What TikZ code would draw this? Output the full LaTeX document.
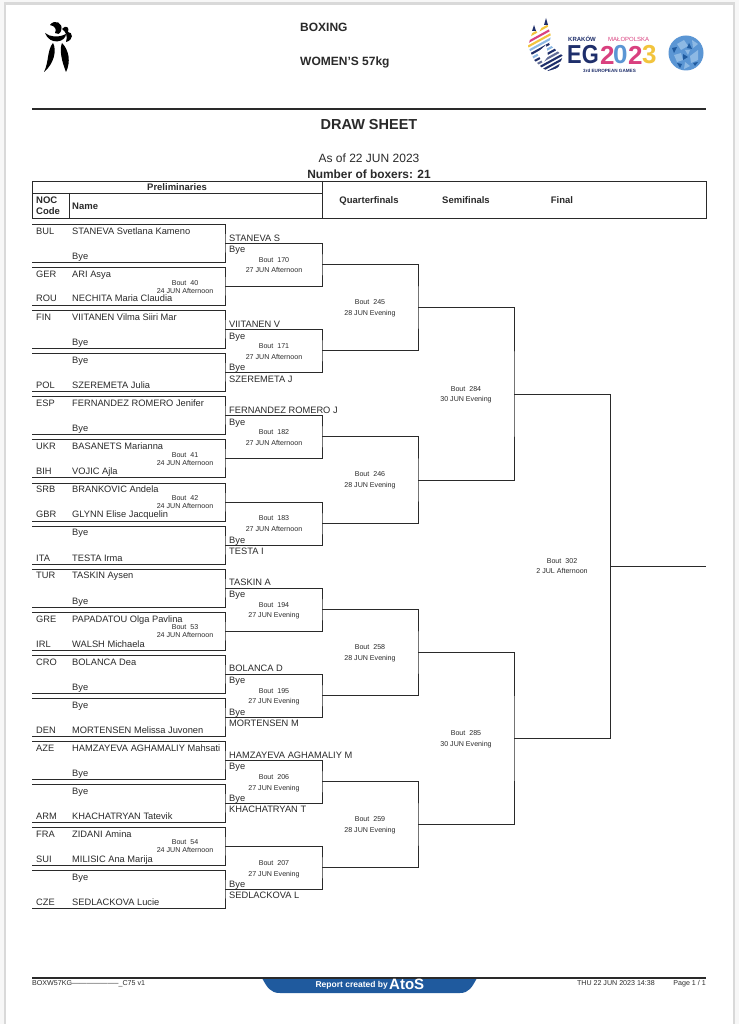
\documentclass[tikz,border=0pt]{standalone}
\usepackage{fontspec}
\setmainfont{Liberation Sans}
\usepackage{xcolor}
\usepackage{graphicx}
\usepackage{tikz}
\usetikzlibrary{positioning}
\definecolor{ink}{HTML}{2A2A2A}
\definecolor{egnavy}{HTML}{1F2F6B}
\definecolor{egpink}{HTML}{D9407F}
\definecolor{egyellow}{HTML}{F2C43D}
\definecolor{egblue}{HTML}{5B96D4}
\definecolor{egpale}{HTML}{8DB9E4}
\definecolor{atosblue}{HTML}{1F5A9E}
\tikzstyle{noc} = [anchor=west, inner sep=0pt, text=ink, text height=6.6pt, text depth=0pt, font=\fontsize{9.3}{10}\selectfont]
\tikzstyle{who} = [anchor=west, inner sep=0pt, text=ink, text height=6.6pt, text depth=0pt, font=\fontsize{9.3}{10}\selectfont]
\tikzstyle{adv} = [anchor=west, inner sep=0pt, text=ink, text height=6.6pt, text depth=0pt, font=\fontsize{9.3}{10}\selectfont]
\tikzstyle{bout} = [inner sep=0pt, text=ink, text height=5pt, text depth=0pt, font=\fontsize{7.1}{8}\selectfont]
\tikzstyle{head} = [inner sep=0pt, text=ink, text height=6.8pt, text depth=0pt, font=\bfseries\fontsize{9.5}{10}\selectfont]
\tikzstyle{title} = [anchor=west, inner sep=0pt, text=ink, text height=8.6pt, text depth=0pt, font=\bfseries\fontsize{12}{13}\selectfont]
\tikzstyle{foot} = [inner sep=0pt, text=ink, text height=5pt, text depth=0pt, font=\fontsize{7.1}{8}\selectfont]
\tikzstyle{line} = [draw=ink, line width=0.8pt]
\tikzstyle{rule} = [draw=ink, line width=1.4pt]
\tikzstyle{stripe} = [line width=2.1pt]
\tikzstyle{games} = [inner sep=0pt, anchor=west, font=\bfseries\fontsize{26}{27}\selectfont]

\begin{document}
\begin{tikzpicture}[x=1pt, y=-1pt]
        \useasboundingbox (0,0) rectangle (739,1024);
        \fill[black!3] (0,0) rectangle (739,1024);
        \fill[white, draw=black!15, line width=2.5pt] (5,3.5) rectangle (734,1030);

        % top of the sheet
        \fill[black] (50,25) .. controls (54,19) and (64,22) .. (61,31) .. controls (60,34) and (57,35) .. (55,33) .. controls (57,29) and (55,26) .. (50,25);
        \fill[black] (45,33) .. controls (50,37) and (58,38) .. (66,34) .. controls (66,42) and (50,46) .. (45,33);
        \fill[black] (62,29) .. controls (66,24) and (70,28) .. (68,32) .. controls (73,32) and (74,40) .. (66,42) .. controls (68,36) and (66,32) .. (62,29);
        \fill[black] (53,43) .. controls (57,50) and (54,64) .. (44,72) .. controls (49,62) and (47,50) .. (53,43);
        \fill[black] (62,43) .. controls (59,50) and (62,62) .. (66,72) .. controls (71,62) and (69,50) .. (62,43);

        \node[title] (sport) at (300,27) {BOXING};
        \node[title] (event) at (300,61) {WOMEN'S 57kg};

        \begin{scope}
            \clip (528,46) -- (534,27) -- (538,34) -- (546,20) -- (551,36) -- (549,44) -- (563,56) -- (558,68) -- (548,71) -- (542,68) -- (534,60) -- cycle;
            \draw[stripe, egyellow] (520,41) -- (570,13.5);
            \draw[stripe, egpink] (520,46.5) -- (570,19);
            \draw[stripe, egyellow] (520,51) -- (570,23.5);
            \draw[stripe, egpale] (520,55.5) -- (570,28);
            \draw[stripe, egnavy] (520,60) -- (570,32.5);
            \draw[stripe, egpale] (520,64.5) -- (570,37);
            \draw[stripe, egnavy] (520,69) -- (570,41.5);
            \draw[stripe, egnavy!70] (520,73.5) -- (570,46);
            \draw[stripe, egnavy] (520,78) -- (570,50.5);
            \draw[stripe, egnavy] (520,82.5) -- (570,55);
            \draw[stripe, egnavy] (520,87) -- (570,59.5);
            \draw[stripe, egnavy] (520,91.5) -- (570,64);
            \draw[stripe, egnavy] (520,96) -- (570,68.5);
            \draw[stripe, egnavy] (520,100.5) -- (570,73);
            \draw[stripe, egnavy] (520,105) -- (570,77.5);
        \end{scope}
        \fill[white] (537,53) -- (546,45) -- (548,56) -- (543,63) -- cycle;
        \fill[egnavy] (534,25) -- (536,31) -- (532,31) -- cycle;
        \fill[egnavy] (546,18) -- (548,25) -- (544,25) -- cycle;
        \node[inner sep=0pt, anchor=west, text=egnavy, font=\bfseries\fontsize{6}{7}\selectfont] (krakow) at (568,39) {KRAKÓW};
        \node[inner sep=0pt, anchor=west, text=egpink, font=\fontsize{6}{7}\selectfont] (malopolska) at (608,39) {MAŁOPOLSKA};
        \node[games, text=egnavy] (eg) at (567,55) {\scalebox{.84}[1]{EG}};
        \node[games, text=egpink] (two) at (600,55) {2};
        \node[games, text=egblue] (nil) at (613,55) {0};
        \node[games, text=egpink] (twob) at (628,55) {2};
        \node[games, text=egyellow] (three) at (642,55) {3};
        \node[inner sep=0pt, anchor=west, text=egnavy, font=\bfseries\fontsize{4.6}{5}\selectfont] (edition) at (583,71) {3rd EUROPEAN GAMES};
        \fill[egblue] (686,53) circle (17.5);
        \fill[egpale] (677,44) -- (684,40) -- (688,46) -- (681,50) -- cycle;
        \fill[egpale] (690,56) -- (698,50) -- (698,60) -- (691,63) -- cycle;
        \fill[egpale] (674,55) -- (681,53) -- (683,60) -- (677,62) -- cycle;
        \fill[egpale] (685,62) -- (690,66) -- (684,69) -- cycle;
        \fill[egpale] (692,40) -- (698,44) -- (693,48) -- cycle;
        \fill[egpale] (685,50) -- (690,50) -- (688,55) -- cycle;
        \fill[atosblue] (672,48) -- (677,47) -- (674,53) -- cycle;
        \fill[atosblue] (683,54) -- (688,57) -- (683,60) -- cycle;
        \fill[atosblue] (689,43) -- (692,49) -- (687,48) -- cycle;
        \fill[atosblue] (677,63) -- (682,64) -- (680,68) -- cycle;
        \fill[atosblue] (693,63) -- (698,62) -- (695,66) -- cycle;

        \coordinate (rulea) at (32,109);
        \coordinate (ruleb) at (706,109);
        \draw[rule] (rulea) -- (ruleb);
        \node[inner sep=0pt, text=ink, text height=10.4pt, text depth=0pt, font=\bfseries\fontsize{14.5}{15}\selectfont] (sheet) at (369,124) {DRAW SHEET};
        \node[inner sep=0pt, text=ink, text height=8.6pt, text depth=0pt, font=\fontsize{12}{13}\selectfont] (asof) at (369,158) {As of 22 JUN 2023};
        \node[inner sep=0pt, text=ink, text height=8.6pt, text depth=0pt, font=\bfseries\fontsize{11.9}{13}\selectfont] (count) at (369,174) {Number of boxers: 21};

        % table header
        \draw[line] (32,181) rectangle (706,218);
        \draw[line] (32,193) -- (322,193);
        \draw[line] (322,181) -- (322,218);
        \draw[line] (69,193) -- (69,218);
        \node[head] (prelim) at (177,187) {Preliminaries};
        \node[head, anchor=west] (nocone) at (36,200) {NOC};
        \node[head, anchor=west] (noctwo) at (36,211) {Code};
        \node[head, anchor=west] (name) at (72,206) {Name};
        \node[head] (quarter) at (369,200) {Quarterfinals};
        \node[head] (semi) at (466,200) {Semifinals};
        \node[head] (final) at (562,200) {Final};

        % entries
        \coordinate (e1) at (32,224);   \coordinate (e2) at (32,262);
        \coordinate (e3) at (32,267);   \coordinate (e4) at (32,305);
        \coordinate (e5) at (32,310);   \coordinate (e6) at (32,348);
        \coordinate (e7) at (32,353);   \coordinate (e8) at (32,391);
        \coordinate (e9) at (32,396);   \coordinate (e10) at (32,434);
        \coordinate (e11) at (32,439);  \coordinate (e12) at (32,477);
        \coordinate (e13) at (32,483);  \coordinate (e14) at (32,521);
        \coordinate (e15) at (32,526);  \coordinate (e16) at (32,564);
        \coordinate (e17) at (32,569);  \coordinate (e18) at (32,607);
        \coordinate (e19) at (32,612);  \coordinate (e20) at (32,650);
        \coordinate (e21) at (32,655);  \coordinate (e22) at (32,693);
        \coordinate (e23) at (32,698);  \coordinate (e24) at (32,736);
        \coordinate (e25) at (32,741);  \coordinate (e26) at (32,779);
        \coordinate (e27) at (32,784);  \coordinate (e28) at (32,822);
        \coordinate (e29) at (32,827);  \coordinate (e30) at (32,865);
        \coordinate (e31) at (32,870);  \coordinate (e32) at (32,908);

        % winners of each round
        \coordinate (p1) at (225,243);  \coordinate (p2) at (225,286);
        \coordinate (p3) at (225,329);  \coordinate (p4) at (225,372);
        \coordinate (p5) at (225,415);  \coordinate (p6) at (225,458);
        \coordinate (p7) at (225,502);  \coordinate (p8) at (225,545);
        \coordinate (p9) at (225,588);  \coordinate (p10) at (225,631);
        \coordinate (p11) at (225,674); \coordinate (p12) at (225,717);
        \coordinate (p13) at (225,760); \coordinate (p14) at (225,803);
        \coordinate (p15) at (225,846); \coordinate (p16) at (225,889);
        \coordinate (r1) at (322,264.5); \coordinate (r2) at (322,350.5);
        \coordinate (r3) at (322,436.5); \coordinate (r4) at (322,523.5);
        \coordinate (r5) at (322,609.5); \coordinate (r6) at (322,695.5);
        \coordinate (r7) at (322,781.5); \coordinate (r8) at (322,867.5);
        \coordinate (q1) at (418,307.5); \coordinate (q2) at (418,480);
        \coordinate (q3) at (418,652.5); \coordinate (q4) at (418,824.5);
        \coordinate (s1) at (514,394);   \coordinate (s2) at (514,738.5);
        \coordinate (f) at (610,566);
        \coordinate (champ) at (706,566);

        \draw[line] (e1) -| (p1) |- (e2);
        \draw[line] (e3) -| (p2) |- (e4);
        \draw[line] (e5) -| (p3) |- (e6);
        \draw[line] (e7) -| (p4) |- (e8);
        \draw[line] (e9) -| (p5) |- (e10);
        \draw[line] (e11) -| (p6) |- (e12);
        \draw[line] (e13) -| (p7) |- (e14);
        \draw[line] (e15) -| (p8) |- (e16);
        \draw[line] (e17) -| (p9) |- (e18);
        \draw[line] (e19) -| (p10) |- (e20);
        \draw[line] (e21) -| (p11) |- (e22);
        \draw[line] (e23) -| (p12) |- (e24);
        \draw[line] (e25) -| (p13) |- (e26);
        \draw[line] (e27) -| (p14) |- (e28);
        \draw[line] (e29) -| (p15) |- (e30);
        \draw[line] (e31) -| (p16) |- (e32);

        \draw[line] (p1) -| (r1) |- (p2);
        \draw[line] (p3) -| (r2) |- (p4);
        \draw[line] (p5) -| (r3) |- (p6);
        \draw[line] (p7) -| (r4) |- (p8);
        \draw[line] (p9) -| (r5) |- (p10);
        \draw[line] (p11) -| (r6) |- (p12);
        \draw[line] (p13) -| (r7) |- (p14);
        \draw[line] (p15) -| (r8) |- (p16);

        \draw[line] (r1) -| (q1) |- (r2);
        \draw[line] (r3) -| (q2) |- (r4);
        \draw[line] (r5) -| (q3) |- (r6);
        \draw[line] (r7) -| (q4) |- (r8);

        \draw[line] (q1) -| (s1) |- (q2);
        \draw[line] (q3) -| (s2) |- (q4);

        \draw[line] (s1) -| (f) |- (s2);
        \draw[line] (f) -- (champ);

        % boxers
        \node[noc] (nbul) at (36,231) {BUL};
        \node[who] (wbul) at (72,231) {STANEVA Svetlana Kameno};
        \node[who] (wbye1) at (72,256) {Bye};
        \node[noc] (nger) at (36,274) {GER};
        \node[who] (wger) at (72,274) {ARI Asya};
        \node[noc] (nrou) at (36,298) {ROU};
        \node[who] (wrou) at (72,298) {NECHITA Maria Claudia};
        \node[noc] (nfin) at (36,317) {FIN};
        \node[who] (wfin) at (72,317) {VIITANEN Vilma Siiri Mar};
        \node[who] (wbye2) at (72,342) {Bye};
        \node[who] (wbye3) at (72,360) {Bye};
        \node[noc] (npol) at (36,385) {POL};
        \node[who] (wpol) at (72,385) {SZEREMETA Julia};
        \node[noc] (nesp) at (36,403) {ESP};
        \node[who] (wesp) at (72,403) {FERNANDEZ ROMERO Jenifer};
        \node[who] (wbye4) at (72,428) {Bye};
        \node[noc] (nukr) at (36,446) {UKR};
        \node[who] (wukr) at (72,446) {BASANETS Marianna};
        \node[noc] (nbih) at (36,471) {BIH};
        \node[who] (wbih) at (72,471) {VOJIC Ajla};
        \node[noc] (nsrb) at (36,489) {SRB};
        \node[who] (wsrb) at (72,489) {BRANKOVIC Andela};
        \node[noc] (ngbr) at (36,514) {GBR};
        \node[who] (wgbr) at (72,514) {GLYNN Elise Jacquelin};
        \node[who] (wbye5) at (72,532) {Bye};
        \node[noc] (nita) at (36,558) {ITA};
        \node[who] (wita) at (72,558) {TESTA Irma};
        \node[noc] (ntur) at (36,575) {TUR};
        \node[who] (wtur) at (72,575) {TASKIN Aysen};
        \node[who] (wbye6) at (72,601) {Bye};
        \node[noc] (ngre) at (36,619) {GRE};
        \node[who] (wgre) at (72,619) {PAPADATOU Olga Pavlina};
        \node[noc] (nirl) at (36,644) {IRL};
        \node[who] (wirl) at (72,644) {WALSH Michaela};
        \node[noc] (ncro) at (36,662) {CRO};
        \node[who] (wcro) at (72,662) {BOLANCA Dea};
        \node[who] (wbye7) at (72,687) {Bye};
        \node[who] (wbye8) at (72,705) {Bye};
        \node[noc] (nden) at (36,730) {DEN};
        \node[who] (wden) at (72,730) {MORTENSEN Melissa Juvonen};
        \node[noc] (naze) at (36,748) {AZE};
        \node[who] (waze) at (72,748) {HAMZAYEVA AGHAMALIY Mahsati};
        \node[who] (wbye9) at (72,773) {Bye};
        \node[who] (wbye10) at (72,791) {Bye};
        \node[noc] (narm) at (36,816) {ARM};
        \node[who] (warm) at (72,816) {KHACHATRYAN Tatevik};
        \node[noc] (nfra) at (36,834) {FRA};
        \node[who] (wfra) at (72,834) {ZIDANI Amina};
        \node[noc] (nsui) at (36,859) {SUI};
        \node[who] (wsui) at (72,859) {MILISIC Ana Marija};
        \node[who] (wbye11) at (72,877) {Bye};
        \node[noc] (ncze) at (36,902) {CZE};
        \node[who] (wcze) at (72,902) {SEDLACKOVA Lucie};

        % second round names
        \node[adv] (astaneva) at (229,238) {STANEVA S};
        \node[adv] (abye1) at (229,249) {Bye};
        \node[adv] (aviitanen) at (229,324) {VIITANEN V};
        \node[adv] (abye2) at (229,336) {Bye};
        \node[adv] (abye3) at (229,367) {Bye};
        \node[adv] (aszeremeta) at (229,379) {SZEREMETA J};
        \node[adv] (afernandez) at (229,410) {FERNANDEZ ROMERO J};
        \node[adv] (abye4) at (229,422) {Bye};
        \node[adv] (abye5) at (229,540) {Bye};
        \node[adv] (atesta) at (229,551) {TESTA I};
        \node[adv] (ataskin) at (229,582) {TASKIN A};
        \node[adv] (abye6) at (229,594) {Bye};
        \node[adv] (abolanca) at (229,668) {BOLANCA D};
        \node[adv] (abye7) at (229,680) {Bye};
        \node[adv] (abye8) at (229,712) {Bye};
        \node[adv] (amortensen) at (229,723) {MORTENSEN M};
        \node[adv] (ahamzayeva) at (229,755) {HAMZAYEVA AGHAMALIY M};
        \node[adv] (abye9) at (229,766) {Bye};
        \node[adv] (abye10) at (229,798) {Bye};
        \node[adv] (akhach) at (229,809) {KHACHATRYAN T};
        \node[adv] (abye11) at (229,884) {Bye};
        \node[adv] (asedlackova) at (229,895) {SEDLACKOVA L};

        % bouts
        \node[bout] (b40) at (185,283) {Bout\ \ 40};
        \node[bout] (d40) at (185,291) {24 JUN Afternoon};
        \node[bout] (b41) at (185,455) {Bout\ \ 41};
        \node[bout] (d41) at (185,463) {24 JUN Afternoon};
        \node[bout] (b42) at (185,498) {Bout\ \ 42};
        \node[bout] (d42) at (185,506) {24 JUN Afternoon};
        \node[bout] (b53) at (185,627) {Bout\ \ 53};
        \node[bout] (d53) at (185,635) {24 JUN Afternoon};
        \node[bout] (b54) at (185,842) {Bout\ \ 54};
        \node[bout] (d54) at (185,850) {24 JUN Afternoon};

        \node[bout] (b170) at (274,260) {Bout\ \ 170};
        \node[bout] (d170) at (274,270) {27 JUN Afternoon};
        \node[bout] (b171) at (274,346) {Bout\ \ 171};
        \node[bout] (d171) at (274,357) {27 JUN Afternoon};
        \node[bout] (b182) at (274,432) {Bout\ \ 182};
        \node[bout] (d182) at (274,443) {27 JUN Afternoon};
        \node[bout] (b183) at (274,518) {Bout\ \ 183};
        \node[bout] (d183) at (274,529) {27 JUN Afternoon};
        \node[bout] (b194) at (274,605) {Bout\ \ 194};
        \node[bout] (d194) at (274,615) {27 JUN Evening};
        \node[bout] (b195) at (274,691) {Bout\ \ 195};
        \node[bout] (d195) at (274,701) {27 JUN Evening};
        \node[bout] (b206) at (274,777) {Bout\ \ 206};
        \node[bout] (d206) at (274,788) {27 JUN Evening};
        \node[bout] (b207) at (274,863) {Bout\ \ 207};
        \node[bout] (d207) at (274,874) {27 JUN Evening};

        \node[bout] (b245) at (370,302) {Bout\ \ 245};
        \node[bout] (d245) at (370,313) {28 JUN Evening};
        \node[bout] (b246) at (370,474) {Bout\ \ 246};
        \node[bout] (d246) at (370,485) {28 JUN Evening};
        \node[bout] (b258) at (370,647) {Bout\ \ 258};
        \node[bout] (d258) at (370,658) {28 JUN Evening};
        \node[bout] (b259) at (370,819) {Bout\ \ 259};
        \node[bout] (d259) at (370,830) {28 JUN Evening};

        \node[bout] (b284) at (466,389) {Bout\ \ 284};
        \node[bout] (d284) at (466,399) {30 JUN Evening};
        \node[bout] (b285) at (466,733) {Bout\ \ 285};
        \node[bout] (d285) at (466,744) {30 JUN Evening};

        \node[bout] (b302) at (562,561) {Bout\ \ 302};
        \node[bout] (d302) at (562,571) {2 JUL Afternoon};

        % footer
        \fill[atosblue] (262,978) .. controls (267,987) and (270,993) .. (280,993) -- (460,993) .. controls (469,993) and (472,987) .. (477,978) -- cycle;
        \coordinate (foota) at (32,978);
        \coordinate (footb) at (706,978);
        \draw[rule] (foota) -- (footb);
        \node[foot, anchor=west] (code) at (32,982.5) {BOXW57KG--------------------\_C75 v1};
        \node[foot, anchor=east] (stamp) at (655,982.5) {THU 22 JUN 2023 14:38};
        \node[foot, anchor=east] (page) at (706,982.5) {Page 1 / 1};
        \node[inner sep=0pt, anchor=east, text=white, font=\bfseries\fontsize{8.5}{9}\selectfont] (report) at (388,985.5) {Report created by};
        \node[inner sep=0pt, anchor=west, text=white, font=\bfseries\fontsize{15}{16}\selectfont] (atos) at (389,984.5) {AtoS};
    \end{tikzpicture}
\end{document}
